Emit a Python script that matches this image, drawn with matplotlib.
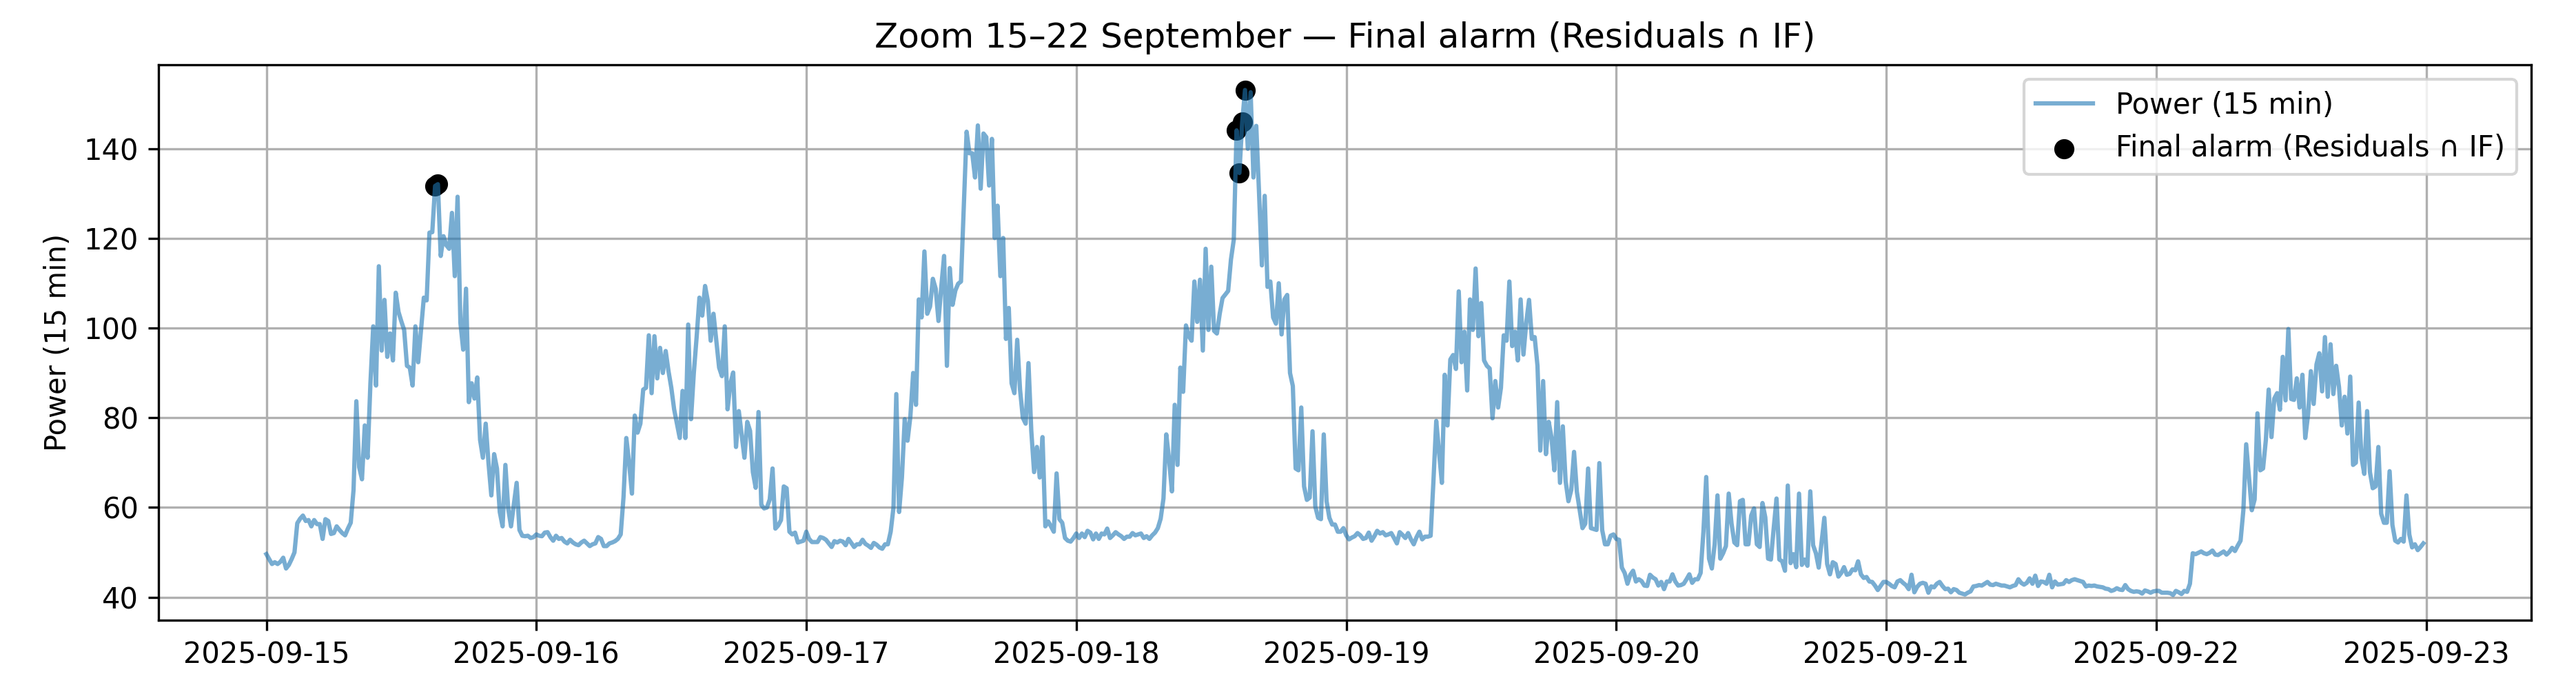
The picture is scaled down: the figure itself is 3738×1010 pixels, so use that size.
import numpy as np
import pandas as pd
import matplotlib
matplotlib.use("Agg")
import matplotlib.pyplot as plt
import matplotlib.dates as mdates

# 15-minute power readings, one list per day (96 values each)
day_15 = [49.6, 48.5, 47.4, 47.8, 47.4, 47.9, 48.8, 46.4, 47.2, 48.5, 50.0, 56.5, 57.5, 58.2, 57.0, 57.2,
          55.8, 57.2, 56.3, 56.3, 53.0, 57.4, 57.0, 54.1, 54.3, 55.8, 55.0, 54.3, 53.8, 55.3, 56.6, 63.9,
          83.7, 69.0, 66.3, 78.3, 71.1, 87.6, 100.4, 87.2, 113.8, 95.0, 106.3, 93.6, 98.8, 92.8, 107.9, 103.6,
          101.5, 99.6, 91.6, 91.2, 87.2, 100.4, 92.4, 99.6, 106.8, 106.2, 121.3, 121.4, 131.7, 132.1, 116.1, 120.5,
          118.5, 117.7, 125.7, 111.6, 129.3, 101.2, 95.2, 108.8, 83.5, 87.7, 84.3, 89.0, 75.1, 71.1, 78.7, 69.9,
          62.7, 71.9, 68.7, 59.0, 55.8, 69.5, 59.8, 55.8, 60.6, 65.5, 55.0, 53.7, 53.6, 53.7, 53.2, 53.4]
day_16 = [54.0, 53.7, 53.6, 54.4, 54.5, 53.4, 52.6, 53.7, 53.0, 53.2, 52.4, 52.0, 52.8, 52.2, 51.8, 51.6,
          52.2, 52.6, 52.0, 51.4, 51.8, 52.0, 53.4, 53.0, 51.4, 51.4, 52.0, 52.2, 52.5, 53.0, 54.0, 62.3,
          75.5, 69.9, 63.1, 80.5, 76.7, 78.7, 86.3, 86.7, 98.4, 85.5, 98.2, 88.8, 95.6, 90.0, 94.9, 90.4,
          86.7, 81.9, 78.7, 75.5, 86.0, 75.5, 100.8, 79.7, 90.0, 98.0, 106.8, 102.8, 109.4, 106.0, 97.2, 103.2,
          97.2, 91.2, 89.3, 100.4, 81.9, 87.6, 90.1, 73.5, 81.5, 76.3, 71.1, 79.1, 77.1, 67.9, 64.4, 81.3,
          60.6, 59.8, 60.0, 61.8, 68.7, 55.3, 56.0, 57.2, 64.7, 64.3, 54.6, 54.0, 54.4, 52.2, 52.4, 52.6]
day_17 = [54.6, 53.0, 52.3, 52.3, 52.3, 53.4, 53.2, 52.8, 52.0, 51.2, 52.5, 52.2, 52.6, 52.4, 51.6, 53.0,
          52.1, 51.2, 51.8, 51.8, 52.8, 51.9, 51.5, 51.0, 52.1, 51.7, 51.1, 50.8, 51.8, 51.8, 54.6, 60.0,
          85.3, 59.0, 66.7, 79.7, 74.9, 80.3, 90.0, 82.9, 106.4, 102.4, 117.1, 103.2, 104.8, 111.0, 108.8, 101.6,
          109.2, 116.1, 91.6, 113.4, 105.2, 108.4, 109.9, 110.4, 126.9, 143.8, 139.0, 139.0, 133.6, 145.2, 131.1, 143.4,
          142.6, 131.8, 142.2, 120.1, 127.3, 111.6, 120.1, 97.6, 104.5, 87.7, 85.5, 97.4, 86.3, 80.0, 78.7, 92.2,
          77.1, 67.9, 73.5, 66.7, 75.7, 55.8, 56.9, 55.8, 54.6, 67.6, 57.4, 56.6, 53.2, 52.6, 52.4, 53.2]
day_18 = [54.2, 53.2, 54.2, 53.4, 54.8, 54.4, 52.9, 54.2, 53.0, 54.2, 54.0, 55.3, 53.2, 53.8, 54.5, 54.0,
          53.6, 53.0, 53.5, 53.5, 54.3, 53.8, 54.0, 54.2, 53.2, 53.6, 53.0, 53.8, 54.4, 55.4, 57.5, 62.0,
          76.3, 70.7, 63.6, 82.9, 69.5, 91.2, 85.8, 100.6, 98.2, 97.2, 110.4, 101.4, 110.8, 95.0, 117.7, 99.6,
          113.7, 99.4, 98.8, 103.2, 106.7, 107.5, 108.3, 115.3, 119.7, 144.1, 134.6, 145.9, 153.1, 140.0, 152.6, 133.6,
          145.1, 130.0, 114.0, 129.5, 109.2, 110.4, 102.4, 101.0, 110.0, 98.6, 106.4, 107.4, 90.0, 87.1, 68.7, 68.3,
          82.3, 64.7, 61.7, 62.2, 77.0, 60.2, 57.7, 57.4, 76.3, 61.4, 57.7, 56.2, 56.2, 54.6, 54.6, 55.4]
day_19 = [53.8, 52.9, 53.3, 53.6, 54.3, 53.8, 53.0, 53.2, 54.4, 52.6, 53.6, 54.8, 54.2, 54.5, 53.8, 54.0,
          54.3, 53.2, 52.0, 54.5, 53.9, 53.2, 54.3, 52.9, 51.8, 53.4, 54.6, 52.9, 53.5, 53.5, 53.7, 65.9,
          79.3, 72.3, 65.5, 89.6, 78.3, 93.0, 94.0, 90.9, 108.2, 92.4, 99.2, 86.1, 106.4, 99.6, 113.3, 98.2,
          105.6, 92.8, 91.6, 91.0, 79.9, 88.2, 82.3, 86.7, 98.4, 97.2, 110.4, 96.0, 99.2, 92.8, 106.4, 94.1,
          101.2, 106.3, 97.6, 98.0, 91.6, 72.7, 88.2, 71.9, 79.1, 75.5, 68.3, 83.5, 65.5, 78.1, 65.9, 61.4,
          63.9, 72.4, 63.5, 59.4, 55.4, 56.4, 68.7, 55.4, 55.2, 55.0, 69.9, 55.0, 51.8, 51.8, 53.7, 54.0]
day_20 = [53.0, 52.8, 46.6, 45.4, 43.0, 45.0, 45.9, 43.5, 44.0, 43.6, 42.6, 42.5, 45.0, 44.4, 44.0, 42.6,
          43.4, 41.8, 43.5, 43.5, 45.1, 43.5, 42.6, 42.7, 43.0, 44.0, 45.1, 43.2, 44.0, 44.0, 45.4, 54.6,
          66.8, 48.6, 46.4, 51.8, 62.7, 48.6, 49.8, 51.4, 63.1, 56.4, 52.2, 51.6, 61.4, 61.7, 51.8, 51.8,
          58.2, 59.8, 51.8, 51.2, 61.0, 57.8, 48.6, 48.4, 55.4, 62.0, 48.4, 48.0, 45.9, 64.9, 47.6, 49.6,
          46.7, 63.1, 47.2, 48.4, 47.0, 63.6, 51.6, 49.8, 46.6, 52.2, 57.7, 47.4, 45.1, 47.8, 47.4, 44.6,
          45.4, 46.7, 45.0, 45.2, 46.2, 46.0, 48.0, 45.1, 44.3, 44.5, 43.5, 43.4, 42.6, 41.6, 42.5, 43.4]
day_21 = [43.4, 43.0, 42.5, 42.2, 43.5, 43.8, 43.2, 42.7, 41.8, 45.0, 41.1, 42.3, 43.0, 43.2, 43.0, 41.0,
          42.4, 42.2, 43.0, 43.4, 42.5, 41.8, 41.9, 41.1, 41.8, 41.6, 41.0, 40.8, 40.6, 41.0, 41.3, 42.4,
          42.5, 42.7, 42.6, 43.0, 43.4, 42.8, 42.7, 43.0, 42.8, 42.6, 42.6, 42.4, 42.2, 42.5, 42.7, 44.0,
          43.2, 42.8, 43.2, 44.2, 43.0, 44.8, 42.5, 43.5, 43.4, 43.0, 45.0, 42.2, 43.5, 42.8, 42.9, 43.0,
          43.8, 43.4, 43.8, 44.0, 43.8, 43.6, 43.4, 42.4, 42.6, 42.5, 42.6, 42.4, 42.3, 42.2, 41.9, 41.8,
          41.4, 41.6, 42.0, 41.7, 41.6, 42.7, 41.8, 41.4, 41.2, 41.3, 41.2, 40.8, 41.5, 41.3, 41.0, 41.3]
day_22 = [41.4, 41.4, 41.0, 41.0, 41.0, 40.9, 40.5, 41.4, 41.1, 40.7, 41.4, 41.2, 43.0, 49.8, 49.6, 49.9,
          50.2, 49.8, 49.6, 49.9, 50.4, 49.5, 49.4, 49.8, 50.2, 49.5, 50.1, 51.0, 50.3, 51.5, 52.6, 59.4,
          74.1, 66.7, 59.4, 61.8, 81.0, 68.3, 68.7, 75.1, 86.3, 75.7, 84.3, 85.5, 81.8, 93.6, 83.9, 99.8,
          84.2, 84.0, 88.8, 82.3, 89.6, 75.5, 80.7, 90.4, 83.1, 91.9, 94.4, 85.9, 98.0, 84.7, 96.4, 85.3,
          91.6, 86.9, 78.3, 84.7, 76.5, 89.2, 69.5, 70.0, 83.4, 71.1, 67.5, 81.5, 67.9, 64.3, 64.7, 73.5,
          58.6, 56.6, 56.6, 68.1, 56.1, 52.6, 52.2, 53.0, 52.4, 62.7, 54.0, 51.1, 51.8, 50.5, 51.2, 52.0]

start_time = "2025-09-15 00:00"
alarm_times = ["2025-09-15 15:00", "2025-09-15 15:15",
               "2025-09-18 14:15", "2025-09-18 14:30", "2025-09-18 14:45", "2025-09-18 15:00"]

power = day_15 + day_16 + day_17 + day_18 + day_19 + day_20 + day_21 + day_22
idx = pd.date_range(start_time, periods=len(power), freq="15min")
series = pd.Series(power, index=idx)
alarms = series.loc[pd.to_datetime(alarm_times)]

W, H, DPI = 3738, 1010, 300
fig = plt.figure(figsize=(W / DPI, H / DPI), dpi=DPI)
ax = fig.add_axes([230 / W, (H - 900) / H, (3673 - 230) / W, (900 - 94) / H])

ax.plot(series.index, series.values, alpha=0.6, label="Power (15 min)")
ax.scatter(alarms.index, alarms.values, color="black", label="Final alarm (Residuals \u2229 IF)")

ax.xaxis.set_major_locator(mdates.DayLocator())
ax.xaxis.set_major_formatter(mdates.DateFormatter("%Y-%m-%d"))
ax.set_ylabel("Power (15 min)")
ax.set_title("Zoom 15\u201322 September \u2014 Final alarm (Residuals \u2229 IF)")
ax.grid(True)
ax.legend(loc="upper right")

fig.savefig("out.png", dpi=DPI)
